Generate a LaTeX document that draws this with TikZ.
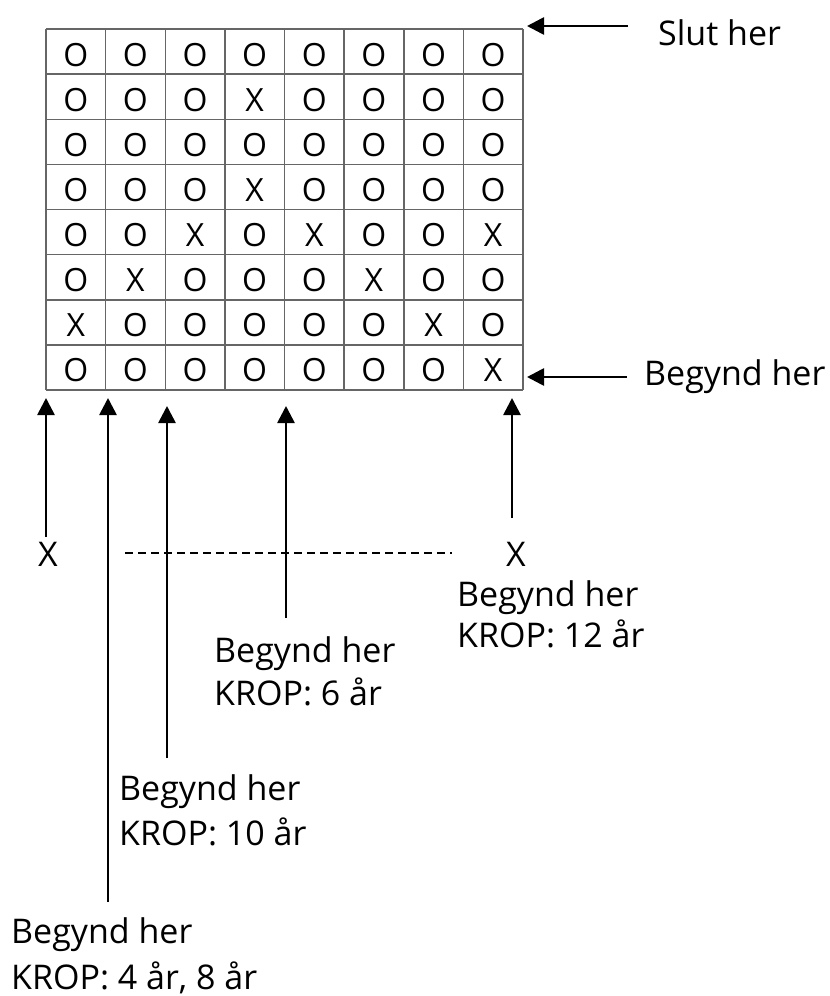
\documentclass[tikz,border=0pt]{standalone}
\usepackage{fontspec}
\setmainfont{Open Sans}
\usetikzlibrary{arrows.meta}
\begin{document}
\begin{tikzpicture}[x=1pt,y=-1pt,
  gridline/.style={draw=black!60, line width=1.5pt},
  cell/.style={font=\fontsize{32}{32}\selectfont, inner sep=0pt},
  lbl/.style={font=\fontsize{34}{43}\selectfont, inner sep=0pt, anchor=base west},
  arr/.style={line width=2.7pt, -{Triangle[length=17pt,width=17pt]}},
  dashline/.style={line width=2pt, dash pattern=on 8pt off 5pt},
  ]
\useasboundingbox (0,0) rectangle (830,996);
\fill[white] (0,0) rectangle (830,996);
% grid
\foreach \i in {0,...,8} \draw[gridline] ({46+59.625*\i},29) -- ({46+59.625*\i},390);
\foreach \j in {0,...,8} \draw[gridline] (46,{29+45.125*\j}) -- (523,{29+45.125*\j});
\foreach \row [count=\r] in {
  {O,O,O,O,O,O,O,O},
  {O,O,O,X,O,O,O,O},
  {O,O,O,O,O,O,O,O},
  {O,O,O,X,O,O,O,O},
  {O,O,X,O,X,O,O,X},
  {O,X,O,O,O,X,O,O},
  {X,O,O,O,O,O,X,O},
  {O,O,O,O,O,O,O,X}}
  \foreach \v [count=\c] in \row
    \node[cell] (c\r-\c) at ({46+59.625*(\c-0.5)}, {32+45.125*(\r-0.5)}) {\v};
% right labels
\node[lbl] (slut) at (658,45) {Slut her};
\node[lbl] (begr) at (644,385) {Begynd her};
\coordinate (slutA) at (628,26);
\coordinate (slutB) at (527,26);
\coordinate (begrA) at (627,377);
\coordinate (begrB) at (527,377);
\draw[arr] (slutA) -- (slutB);
\draw[arr] (begrA) -- (begrB);
% bottom markers
\node[cell, font=\fontsize{34}{34}\selectfont] (xl) at (48,554) {X};
\node[cell, font=\fontsize{34}{34}\selectfont] (xr) at (516,554) {X};
\draw[dashline] (125,553) -- (452,553);
% labels
\node[lbl] (l12a) at (457,606) {Begynd her};
\node[lbl] (l12b) at (457,647) {KROP: 12 år};
\node[lbl] (l6a) at (214,662) {Begynd her};
\node[lbl] (l6b) at (214,705) {KROP: 6 år};
\node[lbl] (l10a) at (119,800) {Begynd her};
\node[lbl] (l10b) at (119,845) {KROP: 10 år};
\node[lbl] (l4a) at (11,943) {Begynd her};
\node[lbl] (l4b) at (11,989) {KROP: 4 år, 8 år};
% arrows
\coordinate (a1s) at (46,537);  \coordinate (a1e) at (46,398);
\coordinate (a2s) at (108,902); \coordinate (a2e) at (108,398);
\coordinate (a3s) at (167,758); \coordinate (a3e) at (167,406);
\coordinate (a4s) at (286,618); \coordinate (a4e) at (286,406);
\coordinate (a5s) at (512,518); \coordinate (a5e) at (512,398);
\foreach \k in {1,...,5} \draw[arr] (a\k s) -- (a\k e);
\end{tikzpicture}
\end{document}
